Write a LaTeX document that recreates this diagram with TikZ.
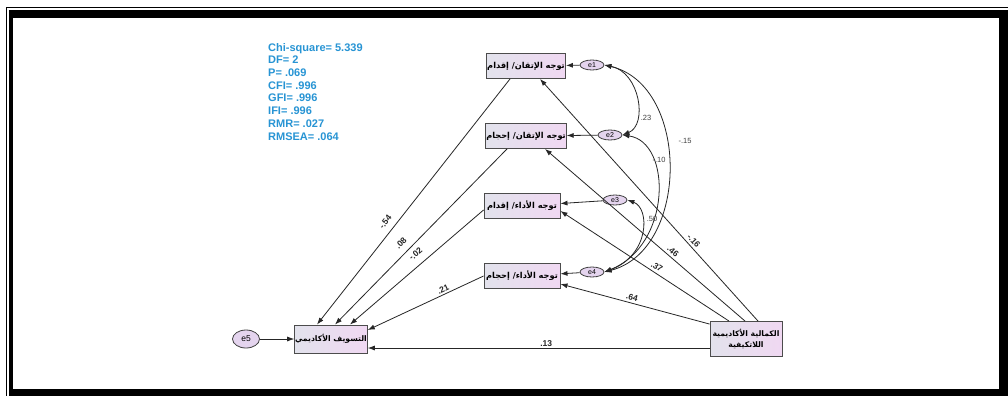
\documentclass[tikz,border=0pt]{standalone}
\usepackage{fontspec}
\setmainfont{Liberation Sans}
\newfontfamily\arfont[Script=Arabic]{DejaVu Sans}
\TeXXeTstate=1
\usetikzlibrary{shapes.geometric,arrows.meta,calc}
\definecolor{statblue}{HTML}{2794D4}
\definecolor{boxL}{HTML}{E2E2EC}
\definecolor{boxR}{HTML}{F0D8F2}
\definecolor{errfill}{HTML}{E4D4EE}
\tikzset{
  obs/.style={draw=black!70, line width=0.9pt, left color=boxL, right color=boxR,
    minimum width=79pt, minimum height=25pt, inner sep=0.5pt,
    font=\arfont\bfseries\fontsize{8.2}{9.5}\selectfont},
  errs/.style={ellipse, draw=black!75, line width=0.8pt, fill=errfill,
    minimum width=24pt, minimum height=10pt, inner sep=0pt,
    font=\fontsize{7}{7}\selectfont},
  arr/.style={draw=black!85, line width=0.8pt, -{Latex[length=7pt,width=5pt]}},
  cov/.style={draw=black!85, line width=0.8pt, {Latex[length=7pt,width=5pt]}-{Latex[length=7pt,width=5pt]}},
  lab/.style={font=\bfseries\fontsize{8.5}{9}\selectfont, text=black!85, inner sep=0.5pt},
  clab/.style={font=\fontsize{7.5}{8}\selectfont, text=black!75, inner sep=0.5pt},
}
\begin{document}
\begin{tikzpicture}[x=1pt,y=-1pt]
% frame
\fill[white] (0,0) rectangle (1008,396);
\useasboundingbox (0,0) rectangle (1008,396);
\fill[black] (6,7) rectangle (1008,396);
\fill[white] (7.2,8.2) rectangle (1008,396);
\fill[black] (9,10) rectangle (1008,396);
\fill[white] (13,18) rectangle (999,389);

% fit statistics
\node[anchor=north west, text=statblue, font=\bfseries\fontsize{11}{12.7}\selectfont,
  align=left, inner sep=0pt] (stats) at (268,43)
  {Chi-square= 5.339\\DF= 2\\P= .069\\CFI= .996\\GFI= .996\\IFI= .996\\RMR= .027\\RMSEA= .064};

% observed variables
\node[obs] (b1) at (526,66) {\beginR توجه الإتقان/ إقدام\endR};
\node[obs] (b2) at (526,136) {\beginR توجه الإتقان/ إحجام\endR};
\node[obs, minimum width=76pt] (b3) at (522,206) {\beginR توجه الأداء/ إقدام\endR};
\node[obs, minimum width=76pt] (b4) at (522,276) {\beginR توجه الأداء/ إحجام\endR};
\node[obs, minimum width=72pt, minimum height=28pt,
  font=\arfont\bfseries\fontsize{7.7}{9}\selectfont] (ts) at (331,339) {\beginR التسويف الأكاديمي\endR};
\node[obs, minimum width=72pt, minimum height=35pt, align=center,
  font=\arfont\bfseries\fontsize{7.7}{10.5}\selectfont] (km) at (746,339)
  {\beginR الكمالية الأكاديمية\endR\\\beginR اللاتكيفية\endR};

% error terms
\node[errs] (e1) at (592,65) {e1};
\node[errs] (e2) at (610,135) {e2};
\node[errs] (e3) at (615,200) {e3};
\node[errs] (e4) at (592,272) {e4};
\node[errs, minimum width=27pt, minimum height=18pt, font=\fontsize{8.5}{9}\selectfont] (e5) at (246,339) {e5};

% error arrows
\draw[arr] (e1) -- (b1);
\draw[arr] (e2) -- (b2);
\draw[arr] (e3) -- (b3);
\draw[arr] (e4) -- (b4);
\draw[arr] (e5) -- (ts);

% paths into procrastination
\draw[arr] ($(b1.south)+(-16,0)$) -- node[lab,sloped,pos=0.606,above=6pt]{-.54} ($(ts.north)+(-14,0)$);
\draw[arr] ($(b2.south)+(-19,0)$) -- node[lab,sloped,pos=0.575,above=6pt]{.08} ($(ts.north)+(4,0)$);
\draw[arr] ($(b3.west)+(0,4)$) -- node[lab,sloped,pos=0.456,above=7pt]{-.02} ($(ts.north)+(19,0)$);
\draw[arr] (b4.west) -- node[lab,sloped,pos=0.331,above=1pt]{.21} ($(ts.east)+(0,-9)$);

% paths from perfectionism
\draw[arr] ($(km.north)+(12,0)$) -- node[lab,sloped,pos=0.315,above=2pt]{-.16} ($(b1.south)+(14,0)$);
\draw[arr] ($(km.north)+(-1,0)$) -- node[lab,sloped,pos=0.379,above=2pt]{.46} ($(b2.south)+(19,0)$);
\draw[arr] ($(km.north)+(-17,0)$) -- node[lab,sloped,pos=0.447,above=2pt]{.37} ($(b3.east)+(0,5)$);
\draw[arr] ($(km.north west)+(0,3)$) -- node[lab,sloped,pos=0.53,above=2pt]{.64} ($(b4.east)+(0,8)$);
\draw[arr] ($(km.west)+(0,9)$) -- node[lab,pos=0.478,above=1pt]{.13} ($(ts.east)+(0,9)$);

% covariances
\draw[cov] (e1.east) .. controls (640,72) and (648,125) .. (e2.east);
\node[clab] at (646,118) {.23};
\draw[cov] (e1.east) .. controls (690,85) and (690,250) .. (e4.east);
\node[clab] at (685,141) {-.15};
\draw[cov] (e2.east) .. controls (672,142) and (672,245) .. (e4.east);
\node[clab] at (659,160) {-.10};
\draw[cov] (e3.east) .. controls (650,208) and (650,255) .. (e4.east);
\node[clab] at (652,219) {.50};
\end{tikzpicture}
\end{document}
